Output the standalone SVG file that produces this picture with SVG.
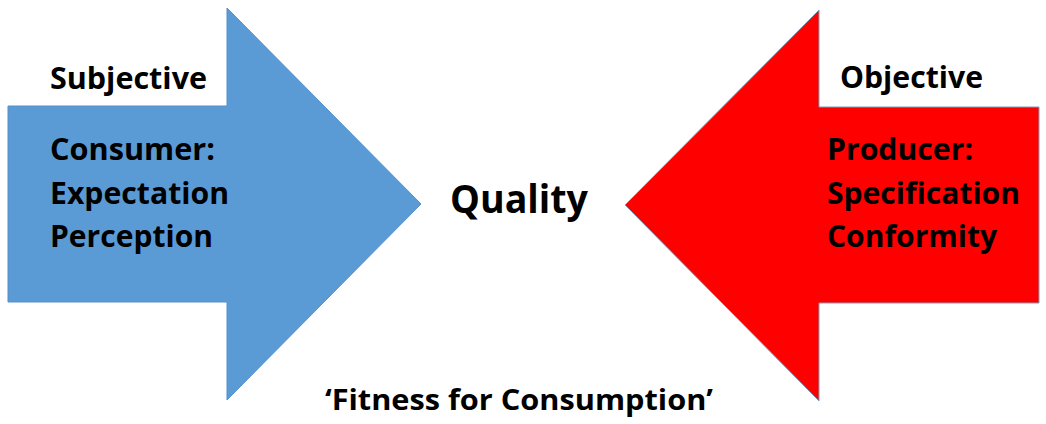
<svg xmlns="http://www.w3.org/2000/svg" width="1046" height="424" viewBox="0 0 1046 424">
<style>
.t{font-family:"Open Sans","Liberation Sans",sans-serif;font-weight:bold;fill:#000;}
.m{font-size:31px;}
.q{font-size:40px;}
.f{font-size:29px;}
</style>
<rect width="1046" height="424" fill="#fff"/>
<g id="consumer">
<polygon points="8,106 227,106 227,8 421,204 227,400 227,302 8,302" fill="#5B9BD5" stroke="#5490CB" stroke-width="1"/>
<text class="t m" x="50" y="89" textLength="157" lengthAdjust="spacingAndGlyphs">Subjective</text>
<text class="t m" x="50" y="160" textLength="165" lengthAdjust="spacingAndGlyphs">Consumer:</text>
<text class="t m" x="50" y="204" textLength="179" lengthAdjust="spacingAndGlyphs">Expectation</text>
<text class="t m" x="50" y="247" textLength="163" lengthAdjust="spacingAndGlyphs">Perception</text>
</g>
<g id="producer">
<polygon points="1039,107 819,107 819,10 625,205 819,401 819,303 1039,303" fill="#FF0000" stroke="#7F9DB9" stroke-width="1"/>
<text class="t m" x="840" y="88" textLength="143" lengthAdjust="spacingAndGlyphs">Objective</text>
<text class="t m" x="827" y="160" textLength="146" lengthAdjust="spacingAndGlyphs">Producer:</text>
<text class="t m" x="827" y="204" textLength="193" lengthAdjust="spacingAndGlyphs">Specification</text>
<text class="t m" x="827" y="247" textLength="170" lengthAdjust="spacingAndGlyphs">Conformity</text>
</g>
<g id="quality">
<text class="t q" x="450" y="213" textLength="138" lengthAdjust="spacingAndGlyphs">Quality</text>
</g>
<g id="fitness">
<text class="t f" x="325" y="410" textLength="388" lengthAdjust="spacingAndGlyphs">‘Fitness for Consumption’</text>
</g>
<g id="connectors"></g>
</svg>
